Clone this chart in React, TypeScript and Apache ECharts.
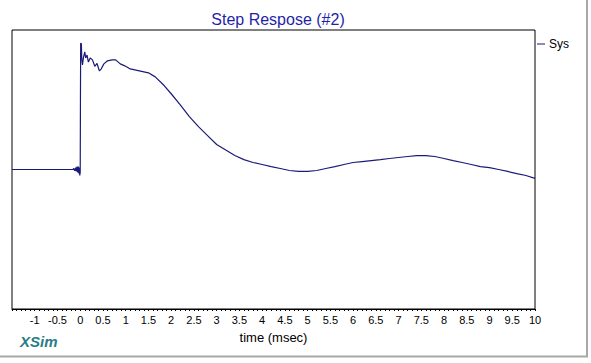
import React, { useEffect, useRef } from "react";
import * as echarts from "echarts";

const chartTitle = "Step Respose (#2)";
const seriesName = "Sys";
const xAxisName = "time (msec)";
const brandLabel = "XSim";

const times = [
  -1.5, -0.16, -0.14, -0.12, -0.1, -0.085, -0.07, -0.055, -0.04, -0.03, -0.02, -0.01, 0.0,
  0.005, 0.01, 0.025, 0.035, 0.05, 0.07, 0.1, 0.12, 0.15, 0.18, 0.22, 0.27, 0.32, 0.37,
  0.42, 0.46, 0.52, 0.6, 0.7, 0.78, 0.88, 0.98, 1.1, 1.3, 1.5, 1.65, 1.85, 2.0, 2.2, 2.4,
  2.6, 2.8, 3.0, 3.2, 3.4, 3.6, 3.8, 4.0, 4.2, 4.4, 4.6, 4.8, 5.0, 5.2, 5.4, 5.6, 5.8,
  6.0, 6.2, 6.4, 6.6, 6.8, 7.0, 7.2, 7.4, 7.6, 7.8, 8.0, 8.2, 8.4, 8.6, 8.8, 9.0, 9.2,
  9.4, 9.6, 9.8, 10.0,
];

const response = [
  0, 0, 0.007, -0.01, 0.014, -0.014, 0.021, -0.021, 0.021, -0.029, 0.014, -0.043, -0.02,
  0.5, 0.907, 0.9, 0.79, 0.75, 0.8, 0.843, 0.8, 0.82, 0.77, 0.8, 0.786, 0.74, 0.76,
  0.707, 0.72, 0.757, 0.779, 0.786, 0.786, 0.757, 0.743, 0.721, 0.707, 0.693, 0.664, 0.6,
  0.543, 0.464, 0.379, 0.307, 0.243, 0.179, 0.139, 0.1, 0.071, 0.05, 0.036, 0.021, 0.007,
  -0.007, -0.014, -0.014, -0.007, 0.007, 0.021, 0.036, 0.05, 0.057, 0.064, 0.071, 0.079,
  0.086, 0.093, 0.1, 0.1, 0.093, 0.079, 0.064, 0.05, 0.036, 0.021, 0.014, 0.0, -0.014,
  -0.029, -0.043, -0.064,
];

const xMin = -1.5;
const xMax = 10;
const xStep = 0.5;

export default function App() {
  const ref = useRef<HTMLDivElement>(null);
  useEffect(() => {
    if (!ref.current) return;
    const chart = echarts.init(ref.current, null, { renderer: "svg" });
    const font = "'Liberation Sans', Arial, sans-serif";
    chart.setOption({
      animation: false,
      backgroundColor: "#ffffff",
      textStyle: { fontFamily: font },
      title: {
        text: chartTitle,
        left: 273,
        textAlign: "center",
        top: 6,
        textStyle: { color: "#1f1fa8", fontSize: 16, fontWeight: "normal", fontFamily: font },
      },
      legend: {
        data: [seriesName],
        left: 537,
        top: 38,
        itemWidth: 8,
        itemHeight: 1,
        itemGap: 4,
        icon: "rect",
        textStyle: { color: "#000", fontSize: 12, fontFamily: font, padding: [0, 0, 0, -1] },
        padding: 0,
      },
      grid: {
        left: 12,
        right: 56,
        top: 30,
        bottom: 54,
        show: true,
        borderColor: "#000",
        borderWidth: 1,
        backgroundColor: "transparent",
      },
      xAxis: {
        type: "value",
        min: xMin,
        max: xMax,
        interval: xStep,
        name: xAxisName,
        nameLocation: "middle",
        nameGap: 22,
        nameTextStyle: { color: "#000", fontSize: 13, fontFamily: font },
        axisLine: { show: true, onZero: false, lineStyle: { color: "#000", width: 1 } },
        axisTick: { show: true, length: 2, lineStyle: { color: "#000" } },
        minorTick: { show: true, splitNumber: 5, length: 2, lineStyle: { color: "#000" } },
        splitLine: { show: false },
        axisLabel: {
          color: "#000",
          fontSize: 11,
          margin: 5,
          fontFamily: font,
          formatter: (v: number) => (v === xMin ? "" : String(v)),
        },
      },
      yAxis: {
        type: "value",
        min: -1,
        max: 1,
        show: false,
        splitLine: { show: false },
      },
      graphic: [
        {
          type: "text",
          left: 20,
          top: 334,
          style: {
            text: brandLabel,
            fill: "#2b7d85",
            font: `italic bold 15px ${font}`,
          },
        },
        {
          type: "line",
          shape: { x1: 587, y1: 0, x2: 587, y2: 357 },
          style: { stroke: "#a8a8a8", lineWidth: 2 },
        },
        {
          type: "line",
          shape: { x1: 0, y1: 356.5, x2: 588, y2: 356.5 },
          style: { stroke: "#a8a8a8", lineWidth: 2 },
        },
      ],
      series: [
        {
          name: seriesName,
          type: "line",
          data: times.map((t, i) => [t, response[i]]),
          showSymbol: false,
          symbol: "none",
          lineStyle: { color: "#1a1a7a", width: 1.2 },
          itemStyle: { color: "#1a1a7a" },
        },
      ],
    });
    return () => chart.dispose();
  }, []);
  return (
    <div
      ref={ref}
      style={{ position: "fixed", left: 0, top: 0, width: 591, height: 363 }}
    />
  );
}
